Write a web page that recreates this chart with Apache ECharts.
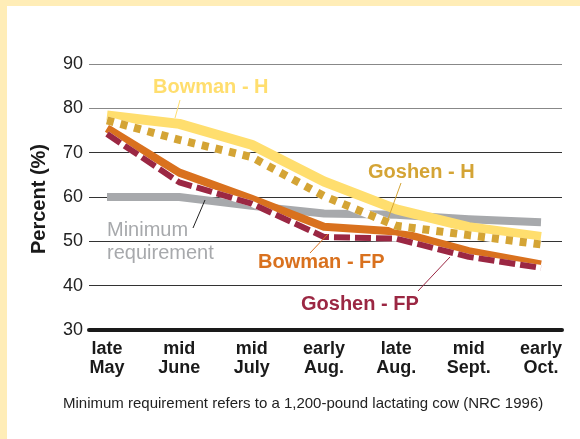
<!DOCTYPE html>
<html>
<head>
<meta charset="utf-8">
<script src="https://cdn.jsdelivr.net/npm/echarts@6/dist/echarts.min.js"></script>
<style>
  html, body { margin: 0; padding: 0; background: #ffffff; }
  #chart { width: 580px; height: 439px; }
</style>
</head>
<body>
<div id="chart"></div>
<script>
// Sampling periods along the grazing season
const periods = ['late\nMay', 'mid\nJune', 'mid\nJuly', 'early\nAug.', 'late\nAug.', 'mid\nSept.', 'early\nOct.'];

// Percent values per pasture / treatment
const minimumRequirement = [60, 60, 58, 56.3, 56, 55, 54.3];
const bowmanH  = [78.4, 76.5, 71.8, 63.5, 57.2, 53.2, 51.0];
const goshenH  = [77.3, 72.9, 69.0, 60.2, 53.5, 51.4, 49.3];
const bowmanFP = [75.5, 65.5, 59.6, 53.3, 52.2, 47.8, 44.8];
const goshenFP = [74.2, 63.3, 58.5, 51.0, 50.6, 46.5, 44.0];

// Y axis range
const yMin = 30, yMax = 90, yStep = 10;

const FONT = '"Liberation Sans", Arial, Helvetica, sans-serif';
const C = {
  gray: '#A7A9AC',
  yellow: '#FFDE6E',
  gold: '#D4A435',
  orange: '#D9711E',
  maroon: '#9B2743',
  border: '#FFEDB7'
};

const chart = echarts.init(document.getElementById('chart'), null, { renderer: 'canvas' });

function lineSeries(name, data, color, width, dash, z) {
  return {
    name: name,
    type: 'line',
    xAxisIndex: 0,
    yAxisIndex: 0,
    data: data,
    symbol: 'none',
    silent: true,
    z: z,
    lineStyle: { color: color, width: width, type: dash || 'solid', cap: 'butt', join: 'round' }
  };
}

function textEl(text, x, y, color, opts) {
  opts = opts || {};
  return {
    type: 'text',
    x: x, y: y,
    rotation: opts.rotation || 0,
    z: 100,
    style: {
      text: text,
      fill: color,
      font: (opts.weight || 'bold') + ' ' + (opts.size || 20) + 'px ' + FONT,
      textAlign: opts.align || 'left',
      textVerticalAlign: 'middle'
    }
  };
}

function leader(x1, y1, x2, y2, color) {
  return {
    type: 'line',
    z: 100,
    shape: { x1: x1, y1: y1, x2: x2, y2: y2 },
    style: { stroke: color, lineWidth: 1 }
  };
}

chart.setOption({
  animation: false,
  backgroundColor: '#ffffff',
  textStyle: { fontFamily: FONT },
  grid: [
    // plotting area: first and last periods sit at the ends
    { left: 107, right: 39, top: 64, bottom: 109 },
    // frame for gridlines, tick labels and baseline
    { left: 89, right: 18, top: 64, bottom: 109 }
  ],
  xAxis: [
    {
      type: 'category',
      gridIndex: 0,
      data: periods,
      boundaryGap: false,
      axisLine: { show: false },
      axisTick: { show: false },
      axisLabel: {
        color: '#1a1a1a',
        fontWeight: 'bold',
        fontSize: 18,
        lineHeight: 19,
        margin: 10,
        interval: 0,
        fontFamily: FONT
      },
      splitLine: { show: false }
    },
    {
      type: 'value',
      gridIndex: 1,
      min: 0, max: 1,
      axisLine: { show: true, lineStyle: { color: '#1a1a1a', width: 4 } },
      axisTick: { show: false },
      axisLabel: { show: false },
      splitLine: { show: false }
    }
  ],
  yAxis: [
    {
      type: 'value',
      gridIndex: 0,
      min: yMin, max: yMax, interval: yStep,
      show: false
    },
    {
      type: 'value',
      gridIndex: 1,
      min: yMin, max: yMax, interval: yStep,
      axisLine: { show: false },
      axisTick: { show: false },
      axisLabel: { color: '#222', fontSize: 18, margin: 6, fontFamily: FONT },
      splitLine: {
        show: true,
        lineStyle: { color: ['#222', '#333', '#333', '#333', '#333', '#888', '#888'], width: 1 }
      }
    }
  ],
  series: [
    lineSeries('Minimum requirement', minimumRequirement, C.gray, 8, 'solid', 2),
    lineSeries('Bowman - H', bowmanH, C.yellow, 10, 'solid', 3),
    lineSeries('Bowman - FP', bowmanFP, C.orange, 8, 'solid', 4),
    lineSeries('Goshen - H backing', goshenH, '#ffffff', 8, 'solid', 5),
    lineSeries('Goshen - H', goshenH, C.gold, 8, [7, 7], 6),
    lineSeries('Goshen - FP backing', goshenFP, '#ffffff', 6, 'solid', 7),
    lineSeries('Goshen - FP', goshenFP, C.maroon, 6, [16, 5], 8)
  ],
  graphic: [
    // page border
    { type: 'rect', z: 0, shape: { x: 0, y: 0, width: 580, height: 6 }, style: { fill: C.border } },
    { type: 'rect', z: 0, shape: { x: 0, y: 0, width: 7, height: 439 }, style: { fill: C.border } },

    // axis title
    textEl('Percent (%)', 39, 199, '#1a1a1a', { rotation: Math.PI / 2, align: 'center' }),

    // series callouts
    textEl('Bowman - H', 153, 87, C.yellow),
    leader(180, 100, 175, 118, C.yellow),

    textEl('Goshen - H', 368, 172, C.gold),
    leader(401, 183, 388, 219, C.gold),

    textEl('Minimum', 107, 230, C.gray, { weight: 'normal' }),
    textEl('requirement', 107, 253, C.gray, { weight: 'normal' }),
    leader(205, 200, 193, 228, '#222'),

    textEl('Bowman - FP', 258, 262, C.orange),
    leader(328, 234, 310, 253, C.orange),

    textEl('Goshen - FP', 301, 304, C.maroon),
    leader(450, 257, 418, 291, C.maroon),

    // footnote
    textEl('Minimum requirement refers to a 1,200-pound lactating cow (NRC 1996)', 63, 404, '#222', { weight: 'normal', size: 15 })
  ]
});
</script>
</body>
</html>
